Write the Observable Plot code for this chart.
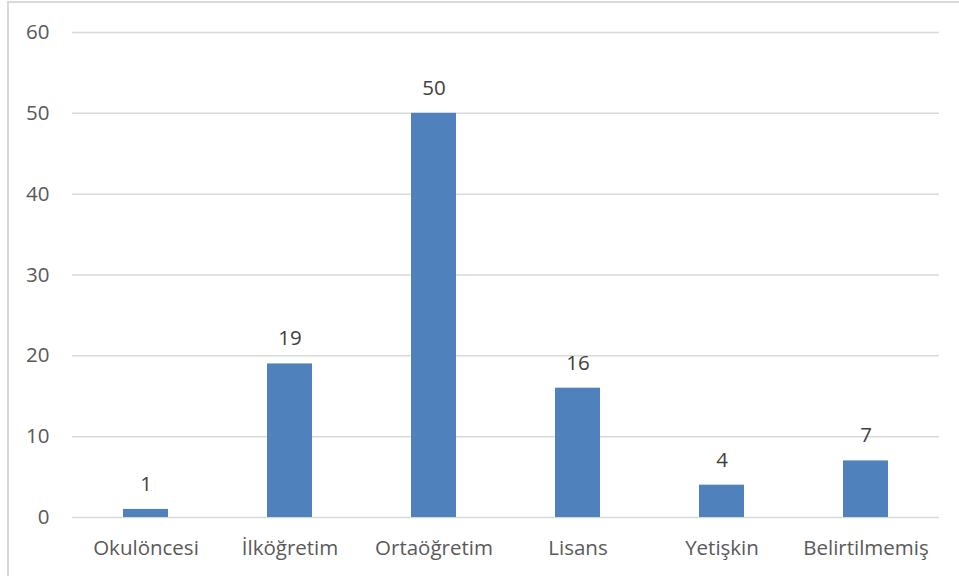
<!DOCTYPE html>
<html>
<head>
<meta charset="utf-8">
<script src="https://cdn.jsdelivr.net/npm/d3@7"></script>
<script src="https://cdn.jsdelivr.net/npm/@observablehq/plot@0.6"></script>
<style>
  html, body { margin: 0; padding: 0; background: #fff; overflow: hidden; }
  #wrap { position: relative; width: 959px; height: 576px; }
  #border { position: absolute; left: 7px; top: 1px; width: 960px; height: 600px; border: 2px solid #d9d9d9; box-sizing: border-box; pointer-events: none; }
  svg { display: block; }
</style>
</head>
<body>
<div id="wrap"><div id="border"></div></div>
<script>
const categories = ["Okulöncesi", "İlköğretim", "Ortaöğretim", "Lisans", "Yetişkin", "Belirtilmemiş"];
const values = [1, 19, 50, 16, 4, 7];
const yTicks = [0, 10, 20, 30, 40, 50, 60];

const data = categories.map((c, i) => ({category: c, value: values[i]}));

const chart = Plot.plot({
  width: 959,
  height: 576,
  marginLeft: 72,
  marginRight: 20,
  marginTop: 32,
  marginBottom: 59,
  style: {fontFamily: "'Open Sans', sans-serif", fontSize: "20.5px", background: "transparent"},
  x: {domain: categories, paddingInner: 0.69, paddingOuter: 0.345, label: null, tickSize: 0, tickPadding: 22},
  y: {domain: [0, 60], ticks: yTicks, label: null, tickSize: 0, tickPadding: 23},
  marks: [
    Plot.gridY(yTicks, {stroke: "#d9d9d9", strokeOpacity: 1, strokeWidth: 1.5}),
    Plot.barY(data, {x: "category", y: "value", fill: "#4f81bd"}),
    Plot.text(data, {x: "category", y: "value", text: d => String(d.value), dy: -25, fill: "#404040", fontSize: 20.5}),
    Plot.axisY({ticks: yTicks, tickSize: 0, tickPadding: 23, fill: "#595959", label: null}),
    Plot.axisX({tickSize: 0, tickPadding: 23, fill: "#595959", label: null})
  ]
});
document.getElementById("wrap").prepend(chart);
</script>
</body>
</html>
